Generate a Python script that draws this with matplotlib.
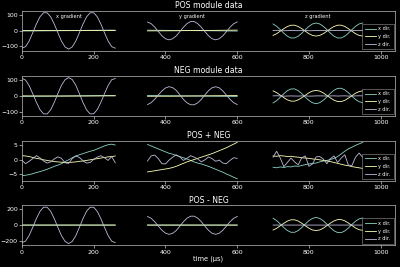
import numpy as np
import matplotlib
matplotlib.use('Agg')
import matplotlib.pyplot as plt

plt.style.use('dark_background')

# sample times (us) of the three gradient blocks
t_xgrad = [0, 10, 20, 30, 40, 50, 60, 70, 80, 90, 100, 110, 120, 130,
           140, 150, 160, 170, 180, 190, 200, 210, 220, 230, 240, 250, 260]
t_ygrad = [350, 360, 370, 380, 390, 400, 410, 420, 430, 440, 450, 460, 470,
           480, 490, 500, 510, 520, 530, 540, 550, 560, 570, 580, 590, 600]
t_zgrad = [700, 710, 720, 730, 740, 750, 760, 770, 780, 790, 800, 810, 820,
           830, 840, 850, 860, 870, 880, 890, 900, 910, 920, 930, 940, 950]

# POS module data, one list per direction (x block, y block, z block)
pos_xdir = [-2.9, -2.6, -2.6, -2.3, -2.3, -2.0, -1.9, -1.6, -1.5, -1.1, -1.0, -0.6, -0.4, 0.0,
            0.3, 0.7, 0.8, 1.1, 1.2, 1.5, 1.5, 1.9, 2.0, 2.4, 2.5, 2.7, 2.4,
            2.6, 2.2, 2.1, 1.7, 1.6, 1.2, 1.1, 0.8, 0.7, 0.4, 0.3, 0.0, -0.1,
            -0.5, -0.6, -0.8, -0.9, -1.2, -1.4, -1.6, -1.9, -2.1, -2.5, -2.7, -3.0, -3.2,
            42, 27, 6, -17, -36, -47, -47, -36, -17, 6, 27, 42, 48,
            42, 27, 6, -17, -36, -47, -47, -36, -17, 6, 27, 42, 48]
pos_ydir = [0.7, 0.5, 0.6, 0.3, 0.3, 0.0, 0.0, -0.2, -0.2, -0.4, -0.4, -0.5, -0.5, -0.6,
            -0.4, -0.5, -0.3, -0.3, -0.1, -0.1, 0.1, 0.1, 0.3, 0.3, 0.5, 0.5, 0.6,
            -2.1, -2.0, -1.9, -1.8, -1.7, -1.6, -1.5, -1.3, -1.2, -0.9, -0.6, -0.4, -0.2,
            0.0, 0.2, 0.4, 0.6, 0.8, 1.0, 1.2, 1.5, 1.8, 2.0, 2.3, 2.6, 2.9,
            -31, -20, -4, 12, 26, 34, 34, 26, 12, -4, -20, -31, -35,
            -31, -20, -4, 12, 26, 34, 34, 26, 12, -4, -20, -31, -35]
pos_zdir = [-112, -102, -66, -14, 41, 87, 113, 113, 87, 41, -14, -67, -104, -118,
            -104, -67, -14, 41, 87, 113, 113, 87, 41, -14, -66, -102, -112,
            54, 44, 22, -6, -33, -52, -59, -52, -34, -7, 21, 44, 57,
            57, 44, 21, -7, -33, -52, -59, -52, -33, -7, 21, 43, 55,
            0.4, 1.5, 0.2, -1.2, -0.5, 0.3, -0.4, -0.9, 0.3, 0.6, -1.1, -0.8, 0.5,
            0.5, 0.1, -0.7, 0.2, 0.6, -0.5, 0.3, 0.8, -1.0, -1.0, 0.4, 1.1, 0.3]

# POS + NEG residuals
sum_xdir = [-5.5, -5.3, -5.1, -4.8, -4.4, -4.1, -3.7, -3.3, -2.8, -2.3, -1.9, -1.4, -0.7, -0.1,
            0.6, 1.2, 1.6, 2.0, 2.4, 2.8, 3.1, 3.6, 4.1, 4.6, 5.0, 5.2, 4.9,
            5.1, 4.6, 4.1, 3.6, 3.1, 2.6, 2.1, 1.8, 1.4, 1.0, 0.6, 0.2, -0.3,
            -0.8, -1.2, -1.5, -1.9, -2.3, -2.8, -3.3, -3.8, -4.3, -4.9, -5.4, -6.0, -6.5,
            -2.6, -2.8, -2.5, -2.7, -2.4, -2.5, -2.2, -2.3, -2.0, -1.7, -1.5, -1.3, -1.2,
            -0.8, -0.5, -0.3, 0.0, 0.4, 1.0, 1.9, 2.8, 3.6, 4.2, 4.8, 5.3, 5.8]
sum_ydir = [1.3, 1.2, 1.0, 0.7, 0.4, 0.2, -0.1, -0.3, -0.5, -0.7, -0.8, -0.9, -1.0, -1.0,
            -0.9, -0.8, -0.6, -0.5, -0.3, -0.1, 0.1, 0.3, 0.5, 0.7, 0.9, 1.0, 1.2,
            -4.2, -4.0, -3.8, -3.6, -3.4, -3.2, -3.0, -2.7, -2.3, -1.8, -1.3, -0.8, -0.4,
            0.0, 0.4, 0.8, 1.2, 1.6, 2.0, 2.5, 3.0, 3.5, 4.0, 4.6, 5.2, 5.8,
            1.2, 1.1, 1.3, 1.2, 1.0, 1.1, 0.9, 0.8, 0.6, 0.5, 0.4, 0.2, 0.1,
            -0.1, -0.3, -0.5, -0.7, -1.0, -1.3, -1.6, -1.9, -2.1, -2.4, -2.6, -2.8, -3.0]
sum_zdir = [-0.3, -1.4, -0.6, 0.3, 1.3, 0.6, -0.5, -1.2, -0.8, 0.2, 0.9, 0.4, -1.1, -1.3,
            0.3, 1.2, 0.7, -0.4, -1.2, -1.0, 0.1, 0.8, 1.3, 0.6, -0.3, 1.0, -1.1,
            -0.5, 1.2, 1.5, 0.3, -1.4, -1.5, -0.2, 0.8, 1.6, 0.9, -0.3, 0.4, 1.3,
            0.8, 0.2, -0.8, -0.1, 0.9, 0.3, -0.6, -0.2, -1.2, -1.4, -0.3, 0.6, 0.4,
            0.8, 2.8, 0.5, -2.4, -1.0, 0.5, -0.8, -1.8, 0.6, 1.2, -2.3, -1.5, 0.9,
            1.0, 0.2, -1.4, 0.3, 1.2, -1.0, 0.5, 1.6, -1.9, -2.0, 0.8, 2.2, 0.7]

labels = ['x dir.', 'y dir.', 'z dir.']
grad_names = ['x gradient', 'y gradient', 'z gradient']

pos = np.array([pos_xdir, pos_ydir, pos_zdir])
both = np.array([sum_xdir, sum_ydir, sum_zdir])
neg = both - pos
diff = pos - neg

times = [t_xgrad, t_ygrad, t_zgrad]
cuts = np.cumsum([len(t_xgrad), len(t_ygrad)])

panels = [('POS module data', pos), ('NEG module data', neg),
          ('POS + NEG', both), ('POS - NEG', diff)]

fig, axes = plt.subplots(4, 1, figsize=(4, 2.67), dpi=100)
fig.subplots_adjust(left=0.055, right=0.9875, top=0.959, bottom=0.081, hspace=0.62)

colors = plt.rcParams['axes.prop_cycle'].by_key()['color']

for ax, (title, data) in zip(axes, panels):
    for c in range(3):
        segs = np.split(data[c], cuts)
        for s, (t, y) in enumerate(zip(times, segs)):
            ax.plot(t, y, color=colors[c], lw=0.6,
                    label=labels[c] if s == 0 else None)
    ax.set_title(title, fontsize=5.6, pad=2)
    ax.set_xlim(0, 1040)
    ax.tick_params(labelsize=4.5, length=2, width=0.4, pad=1)
    for sp in ax.spines.values():
        sp.set_linewidth(0.5)
        sp.set_color('#bbbbbb')
    leg = ax.legend(loc='lower right', fontsize=3.6, handlelength=2.2,
                    borderpad=0.5, labelspacing=0.55, handletextpad=0.6,
                    borderaxespad=0.3, fancybox=False)
    leg.get_frame().set_linewidth(0.4)
    leg.get_frame().set_edgecolor('#bbbbbb')

for t, name in zip(times, grad_names):
    axes[0].text((t[0] + t[-1]) / 2, 90, name, ha='center', va='center', fontsize=3.6)

axes[3].set_xlabel('time (μs)', fontsize=4.8, labelpad=1)

fig.savefig('out.png', dpi=100)
